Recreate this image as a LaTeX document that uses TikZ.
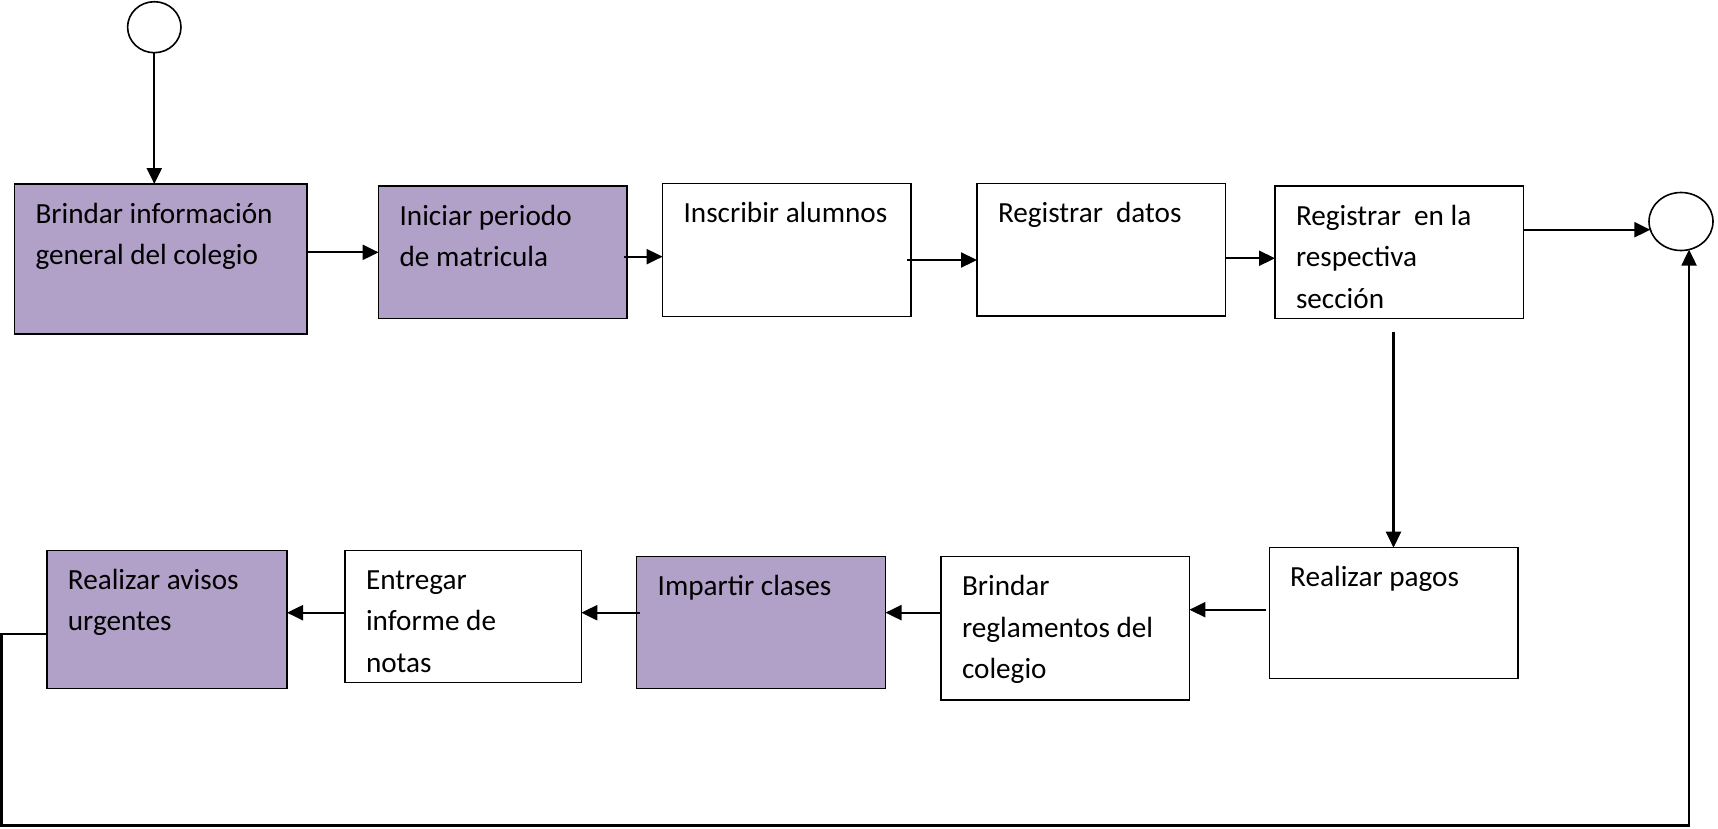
\documentclass[tikz,border=0pt]{standalone}
\usepackage{fontspec}
\setmainfont{Carlito}
\usetikzlibrary{arrows.meta,calc,shapes.geometric}
\definecolor{lila}{HTML}{B1A0C7}
\newcommand{\bxt}[3]{\parbox[c][#2pt][t]{#1pt}{\raggedright\leftskip=21pt\relax\parskip=0pt\rule{0pt}{39pt}#3}}
\begin{document}
\begin{tikzpicture}[x=1pt,y=-1pt,
  proc/.style={draw=black, line width=1.4pt, inner sep=0pt, outer sep=0pt, anchor=north west,
    font=\fontsize{29.2pt}{41.6pt}\selectfont},
  purp/.style={proc, fill=lila},
  term/.style={draw=black, ellipse, line width=1.6pt, inner sep=0pt, outer sep=0pt, fill=white},
  arr/.style={line width=2.2pt, -{Triangle[length=16pt,width=15pt]}},
  lin/.style={line width=2.2pt}]
\fill[white] (0,0) rectangle (1718,828);
\useasboundingbox (0,0) rectangle (1718,828);

\node[term, minimum width=53.4pt, minimum height=51pt] (s) at (154.3,27.2) {};
\node[term, minimum width=64pt, minimum height=58pt] (e) at (1681,221.5) {};

\node[purp] (b1) at (14.5,184) {\bxt{292.5}{150}{Brindar información\\general del colegio}};
\node[purp] (b2) at (378.6,186) {\bxt{248.4}{132.7}{Iniciar periodo\\de matricula}};
\node[proc] (b3) at (662.6,183.7) {\bxt{248.4}{132.6}{Inscribir alumnos}};
\node[proc] (b4) at (977,183.7) {\bxt{248.4}{132.3}{Registrar~ datos}};
\node[proc] (b5) at (1275,186) {\bxt{248.6}{132.3}{Registrar~ en la\\respectiva\\sección}};
\node[proc] (b6) at (1269.2,547.7) {\bxt{248.6}{131}{Realizar pagos}};
\node[proc] (b7) at (941,556.7) {\bxt{248.4}{143.3}{Brindar\\reglamentos del\\colegio}};
\node[purp] (b8) at (636.7,556.7) {\bxt{248.8}{132}{Impartir clases}};
\node[proc] (b9) at (345,550.3) {\bxt{236.3}{132.4}{Entregar\\informe de\\notas}};
\node[purp] (b10) at (46.9,550.3) {\bxt{240.1}{138.4}{Realizar avisos\\urgentes}};

\draw[arr] (s.south) -- (s.south |- b1.north);
\draw[arr] (b1.east |- b2.west) -- (b2.west);
\coordinate (c23) at ($(b2.east)+(-3,4.3)$);
\draw[arr] (c23) -- (c23 -| b3.west);
\coordinate (c34) at ($(b3.east)+(-4,10)$);
\draw[arr] (c34) -- (c34 -| b4.west);
\coordinate (c45) at ($(b4.east)+(0,8.4)$);
\draw[arr] (c45) -- (c45 -| b5.west);
\draw[arr] (b5.east |- e.195) -- (e.195);
\coordinate (c56) at ($(b6.north |- b5.south)+(0,13.4)$);
\draw[arr] (c56) -- (b6.north);
\coordinate (c67) at ($(b6.west)+(-3,-3.5)$);
\draw[arr] (c67) -- (c67 -| b7.east);
\coordinate (c78) at ($(b7.west)+(0,-15.7)$);
\draw[arr] (c78) -- (c78 -| b8.east);
\coordinate (c89) at ($(b8.west)+(3,-10)$);
\draw[arr] (c89) -- (c89 -| b9.east);
\coordinate (c910) at ($(b9.west)+(0,-3.8)$);
\draw[arr] (c910) -- (c910 -| b10.east);
\coordinate (lp) at ($(b10.west)+(0,14.2)$);
\coordinate (lc) at (1.5,825.5);
\draw[arr] (lp) -| (lc) -| (e.286);
\end{tikzpicture}
\end{document}
